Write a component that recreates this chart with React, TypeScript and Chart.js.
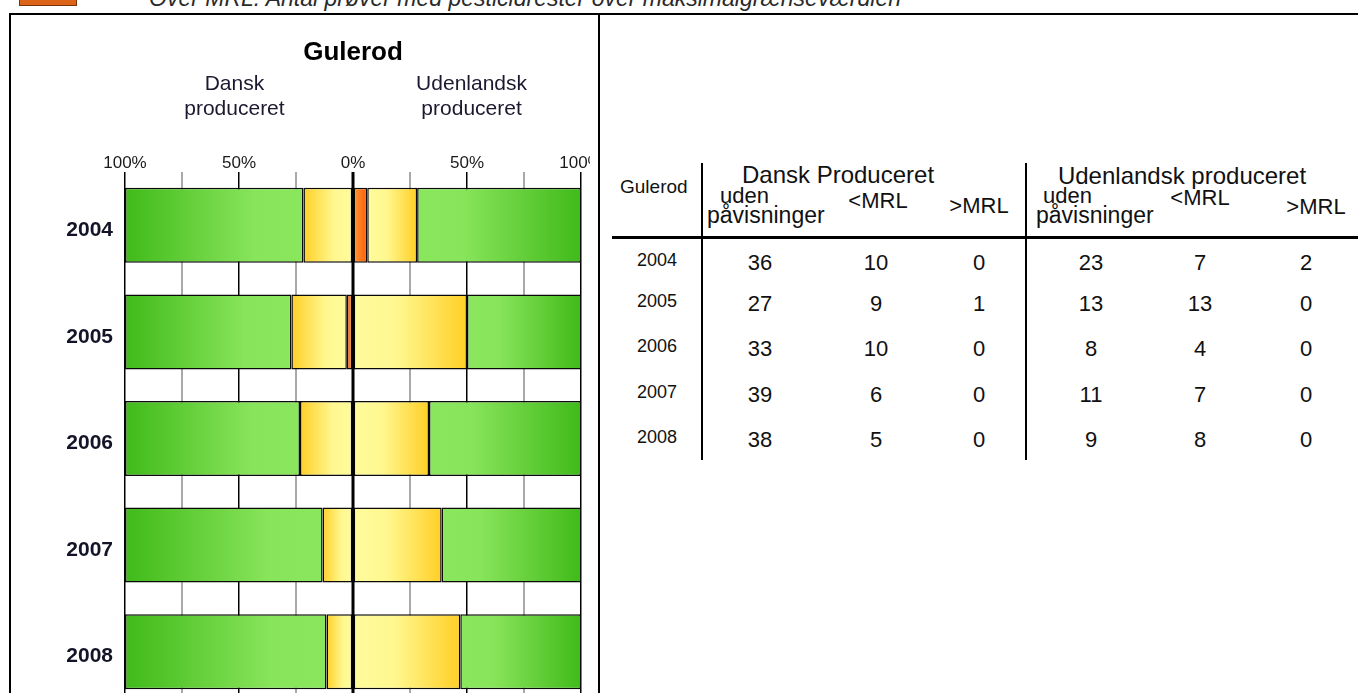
import React, { useEffect, useRef } from 'react';
import { Chart, registerables } from 'chart.js';

Chart.register(...registerables);

// ---------- data ----------
const years = ['2004', '2005', '2006', '2007', '2008'];
const dkNone = [36, 27, 33, 39, 38];
const dkBelow = [10, 9, 10, 6, 5];
const dkAbove = [0, 1, 0, 0, 0];
const foNone = [23, 13, 8, 11, 9];
const foBelow = [7, 13, 4, 7, 8];
const foAbove = [2, 0, 0, 0, 0];
const axisLabelTicks = [-100, -50, 0, 50, 100];

const FONT = "'Liberation Sans', Arial, Helvetica, sans-serif";

const share = (part: number[], a: number[], b: number[], c: number[]) =>
  part.map((v, i) => (v / (a[i] + b[i] + c[i])) * 100);

const dkSegs = [
  share(dkAbove, dkNone, dkBelow, dkAbove),
  share(dkBelow, dkNone, dkBelow, dkAbove),
  share(dkNone, dkNone, dkBelow, dkAbove),
];
const foSegs = [
  share(foAbove, foNone, foBelow, foAbove),
  share(foBelow, foNone, foBelow, foAbove),
  share(foNone, foNone, foBelow, foAbove),
];

type Stop = [number, string];
const GREEN: Stop[] = [[0, '#40BA1A'], [0.72, '#88E45A'], [1, '#8AE65C']];
const YELLOW: Stop[] = [[0, '#FFCF26'], [0.62, '#FFF890'], [1, '#FFFB9C']];
const ORANGE: Stop[] = [[0, '#FA5E00'], [1, '#FF9B3C']];

function makeBg(sign: number, segIdx: number, segs: number[][], stops: Stop[], fallback: string) {
  return (c: any) => {
    const chart = c.chart;
    const xs = chart && chart.scales ? chart.scales.x : null;
    const i = c.dataIndex;
    if (!xs || i === undefined || !chart.chartArea) return fallback;
    let start = 0;
    for (let k = 0; k < segIdx; k++) start += segs[k][i];
    const end = start + segs[segIdx][i];
    const pIn = xs.getPixelForValue(sign * start);
    const pOut = xs.getPixelForValue(sign * end);
    if (!isFinite(pIn) || !isFinite(pOut) || Math.abs(pOut - pIn) < 1) return fallback;
    const g = chart.ctx.createLinearGradient(pOut, 0, pIn, 0);
    stops.forEach(([o, col]) => g.addColorStop(o, col));
    return g;
  };
}

const overlay = {
  id: 'overlay',
  afterDatasetsDraw(chart: any) {
    const { ctx, chartArea, scales } = chart;
    const x0 = scales.x.getPixelForValue(0);
    ctx.save();
    ctx.strokeStyle = '#000';
    ctx.lineWidth = 3;
    ctx.beginPath();
    ctx.moveTo(x0, chartArea.top);
    ctx.lineTo(x0, chartArea.bottom);
    ctx.stroke();
    ctx.restore();
  },
  afterDraw(chart: any) {
    const { ctx, scales } = chart;
    const xs = scales.x;
    ctx.save();
    ctx.fillStyle = '#000';
    ctx.textAlign = 'center';
    ctx.textBaseline = 'alphabetic';
    ctx.font = `bold 26px ${FONT}`;
    ctx.fillText('Gulerod', xs.getPixelForValue(0), 45);
    ctx.fillStyle = '#1c1830';
    ctx.font = `21px ${FONT}`;
    const xl = xs.getPixelForValue(-52);
    const xr = xs.getPixelForValue(52);
    ctx.fillText('Dansk', xl, 75);
    ctx.fillText('produceret', xl, 100);
    ctx.fillText('Udenlandsk', xr, 75);
    ctx.fillText('produceret', xr, 100);
    ctx.restore();
  },
};

function ChartBox() {
  const ref = useRef<HTMLCanvasElement | null>(null);
  useEffect(() => {
    if (!ref.current) return;
    const mk = (label: string, sign: number, segIdx: number, segs: number[][], stops: Stop[], fb: string) => ({
      label,
      data: segs[segIdx].map((v) => sign * v),
      backgroundColor: makeBg(sign, segIdx, segs, stops, fb),
      borderColor: '#0a0a0a',
      borderWidth: 1.5,
      borderSkipped: false,
      barPercentage: 0.704,
      categoryPercentage: 1,
    });
    const datasets = [
      mk('Dansk >MRL', -1, 0, dkSegs, ORANGE, '#FF7A1A'),
      mk('Dansk <MRL', -1, 1, dkSegs, YELLOW, '#FFE45A'),
      mk('Dansk uden påvisninger', -1, 2, dkSegs, GREEN, '#66D03A'),
      mk('Udenlandsk >MRL', 1, 0, foSegs, ORANGE, '#FF7A1A'),
      mk('Udenlandsk <MRL', 1, 1, foSegs, YELLOW, '#FFE45A'),
      mk('Udenlandsk uden påvisninger', 1, 2, foSegs, GREEN, '#66D03A'),
    ];
    const chart = new Chart(ref.current, {
      type: 'bar',
      data: { labels: years, datasets },
      options: {
        indexAxis: 'y',
        responsive: false,
        animation: false,
        devicePixelRatio: 1,
        layout: { padding: { left: 0, right: 9, top: 0, bottom: 30 } },
        plugins: {
          legend: { display: false },
          tooltip: { enabled: false },
          title: { display: false },
        },
        scales: {
          x: {
            type: 'linear',
            position: 'top',
            stacked: true,
            min: -100,
            max: 100,
            afterFit: (s: any) => {
              s.height = 157;
              s.paddingLeft = 0;
              s.paddingRight = 0;
            },
            ticks: {
              stepSize: 25,
              autoSkip: false,
              maxRotation: 0,
              minRotation: 0,
              padding: 0,
              color: '#1a1a1a',
              font: { family: FONT, size: 17, lineHeight: 1 },
              callback: (v: any) => (axisLabelTicks.includes(Number(v)) ? Math.abs(Number(v)) + '%' : ''),
            },
            grid: {
              drawTicks: false,
              color: (c: any) => (c.tick && Math.abs(c.tick.value) % 50 === 0 ? '#000' : '#a9a9a9'),
              lineWidth: (c: any) => (c.tick && Math.abs(c.tick.value) % 50 === 0 ? 1.5 : 2),
            },
            border: { display: false },
          },
          y: {
            type: 'category',
            stacked: true,
            afterFit: (s: any) => {
              s.width = 115;
              s.paddingTop = 0;
              s.paddingBottom = 0;
            },
            grid: { display: false, drawTicks: false },
            border: { display: false },
            ticks: {
              padding: 12,
              labelOffset: 5,
              color: '#141428',
              font: { family: FONT, size: 21, weight: 'bold' },
            },
          },
        },
      } as any,
      plugins: [overlay],
    });
    return () => chart.destroy();
  }, []);
  return (
    <canvas
      ref={ref}
      width={580}
      height={720}
      style={{ position: 'absolute', left: 10, top: 15, width: 580, height: 720 }}
    />
  );
}

// ---------- table ----------
const rowY = [260, 301, 346, 392, 437];
const colX = [760, 876, 979, 1091, 1200, 1306];

function T(props: { x: number; y: number; size: number; left?: boolean; children: React.ReactNode }) {
  return (
    <div
      style={{
        position: 'absolute',
        left: props.x,
        top: props.y,
        fontSize: props.size,
        lineHeight: 1,
        whiteSpace: 'nowrap',
        transform: props.left ? 'translate(0,-50%)' : 'translate(-50%,-50%)',
        color: '#111',
      }}
    >
      {props.children}
    </div>
  );
}

function Line(props: { x: number; y: number; w: number; h: number }) {
  return (
    <div style={{ position: 'absolute', left: props.x, top: props.y, width: props.w, height: props.h, background: '#000' }} />
  );
}

export default function App() {
  const columns = [dkNone, dkBelow, dkAbove, foNone, foBelow, foAbove];
  return (
    <div
      style={{
        position: 'fixed',
        left: 0,
        top: 0,
        width: 1358,
        height: 693,
        overflow: 'hidden',
        background: '#fff',
        fontFamily: FONT,
      }}
    >
      {/* top legend strip (cut off) */}
      <div
        style={{
          position: 'absolute',
          left: 19,
          top: -10,
          width: 58,
          height: 16,
          boxSizing: 'border-box',
          background: '#DC6418',
          border: '1px solid #7a3208',
        }}
      />
      <div
        style={{
          position: 'absolute',
          left: 149,
          top: -13,
          fontSize: 23,
          lineHeight: 1,
          fontStyle: 'italic',
          whiteSpace: 'nowrap',
          color: '#2a2a2a',
        }}
      >
        Over MRL: Antal prøver med pesticidrester over maksimalgrænseværdien
      </div>

      {/* frame */}
      <Line x={9} y={13} w={1349} h={2} />
      <Line x={9} y={13} w={2} h={680} />
      <Line x={598} y={13} w={2} h={680} />

      <ChartBox />

      {/* table */}
      <T x={620} y={186} size={19} left>
        Gulerod
      </T>
      <Line x={701} y={163} w={2} h={297} />
      <Line x={1025} y={163} w={2} h={297} />
      <Line x={612} y={236} w={746} h={3} />
      <T x={838} y={175} size={24}>Dansk Produceret</T>
      <T x={1182} y={176} size={24}>Udenlandsk produceret</T>
      <T x={720} y={196} size={22} left>uden</T>
      <T x={707} y={215} size={23} left>påvisninger</T>
      <T x={878} y={201} size={22}>&lt;MRL</T>
      <T x={979} y={206} size={22}>&gt;MRL</T>
      <T x={1043} y={196} size={22} left>uden</T>
      <T x={1036} y={215} size={23} left>påvisninger</T>
      <T x={1200} y={198} size={22}>&lt;MRL</T>
      <T x={1316} y={207} size={22}>&gt;MRL</T>
      {years.map((yr, r) => (
        <React.Fragment key={yr}>
          <T x={657} y={rowY[r]} size={18}>
            {yr}
          </T>
          {columns.map((col, c) => (
            <T key={c} x={colX[c]} y={rowY[r] + 3} size={22}>
              {col[r]}
            </T>
          ))}
        </React.Fragment>
      ))}
    </div>
  );
}
